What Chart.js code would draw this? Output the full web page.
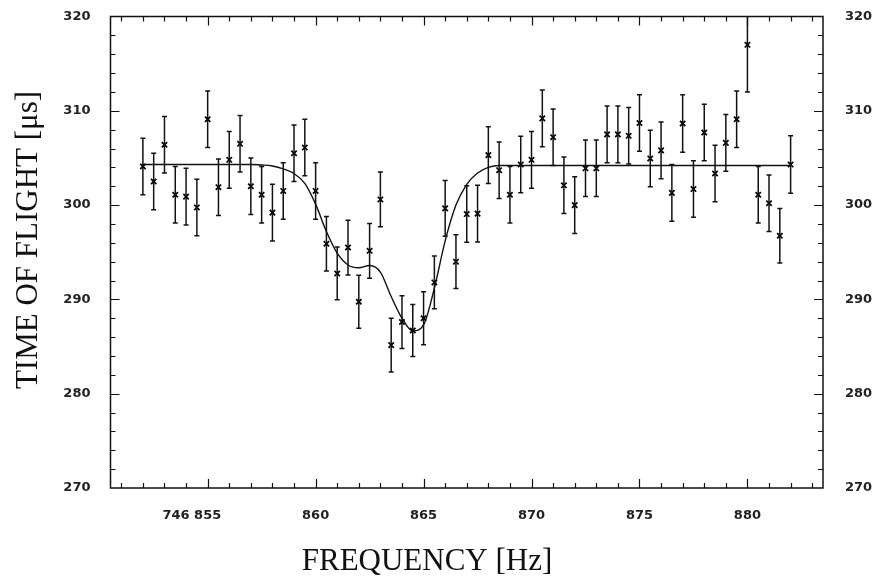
<!DOCTYPE html>
<html><head><meta charset="utf-8">
<script src="https://cdn.jsdelivr.net/npm/chart.js@4.4.1/dist/chart.umd.min.js"></script>
<style>html,body{margin:0;padding:0;background:#fff}#wrap{width:877px;height:581px;position:relative}</style>
</head><body><div id="wrap"><canvas id="c"></canvas></div>
<script>
// ---- data ----
const frequencies = [852.0, 852.5, 853.0, 853.5, 854.0, 854.5, 855.0, 855.5, 856.0, 856.5,
  857.0, 857.5, 858.0, 858.5, 859.0, 859.5, 860.0, 860.5, 861.0, 861.5,
  862.0, 862.5, 863.0, 863.5, 864.0, 864.5, 865.0, 865.5, 866.0, 866.5,
  867.0, 867.5, 868.0, 868.5, 869.0, 869.5, 870.0, 870.5, 871.0, 871.5,
  872.0, 872.5, 873.0, 873.5, 874.0, 874.5, 875.0, 875.5, 876.0, 876.5,
  877.0, 877.5, 878.0, 878.5, 879.0, 879.5, 880.0, 880.5, 881.0, 881.5, 882.0];
const timeOfFlight = [304.1, 302.5, 306.4, 301.1, 300.9, 299.75, 309.1, 301.9, 304.8, 306.5,
  302.0, 301.1, 299.2, 301.5, 305.5, 306.1, 301.5, 295.9, 292.75, 295.5,
  289.75, 295.15, 300.6, 285.15, 287.6, 286.7, 288.0, 291.8, 299.65, 294.0,
  299.05, 299.1, 305.3, 303.7, 301.1, 304.3, 304.8, 309.2, 307.2, 302.1,
  300.0, 303.9, 303.9, 307.5, 307.5, 307.35, 308.7, 304.95, 305.8, 301.3,
  308.65, 301.7, 307.7, 303.35, 306.6, 309.1, 317.0, 301.1, 300.2, 296.75, 304.3];
const errors = [3.0, 3.0, 3.0, 3.0, 3.0, 3.0, 3.0, 3.0, 3.0, 3.0,
  3.0, 3.0, 3.0, 3.0, 3.0, 3.0, 3.0, 2.9, 2.8, 2.9,
  2.8, 2.9, 2.9, 2.85, 2.8, 2.75, 2.8, 2.8, 2.95, 2.85,
  3.0, 3.0, 3.0, 3.0, 3.0, 3.0, 3.0, 3.0, 3.0, 3.0,
  3.0, 3.0, 3.0, 3.0, 3.0, 3.0, 3.0, 3.0, 3.0, 3.0,
  3.05, 3.0, 3.0, 3.0, 3.0, 3.0, 5.0, 3.0, 3.0, 2.9, 3.05];
const fitFrequencies = [852, 853, 854, 855, 856, 857, 857.5, 858, 858.5, 859, 859.5, 860, 860.5,
  861, 861.5, 862, 862.5, 863, 863.5, 864, 864.5, 865, 865.5, 866, 866.5, 867, 867.5,
  868, 868.5, 869, 870, 872, 875, 878, 880, 882];
const fitValues = [304.3, 304.3, 304.3, 304.3, 304.3, 304.3, 304.25, 304.15, 303.85, 303.35, 302.3, 300.1, 297.2,
  294.9, 293.65, 293.35, 293.6, 292.9, 290.3, 288.0, 286.65, 287.3, 291.2, 296.2, 300.0, 302.2, 303.4,
  304.0, 304.2, 304.2, 304.2, 304.2, 304.2, 304.2, 304.2, 304.2];
const xTickValues = [855, 860, 865, 870, 875, 880];
const xTickLabels = ['746 855', '860', '865', '870', '875', '880'];
const yTickValues = [270, 280, 290, 300, 310, 320];
const yTickLabels = ['270', '280', '290', '300', '310', '320'];
const xTitle = 'FREQUENCY [Hz]';
const yTitle = 'TIME OF FLIGHT [\u03BCs]';

// ---- helpers ----
function xLabel(v) {
  const i = xTickValues.indexOf(v);
  if (i < 0) return '';
  const lab = xTickLabels[i];
  const parts = lab.split(' ');
  // keep the last group centred on its tick (prefix hangs to the left)
  return parts.length > 1 ? lab + ' '.repeat(parts[0].length * 2 + 1) : lab;
}
function yLabel(v) {
  const i = yTickValues.indexOf(v);
  return i < 0 ? '' : yTickLabels[i];
}

const INK = '#111';

const errorBarPlugin = {
  id: 'errorBars',
  afterDatasetsDraw(chart) {
    const {ctx, chartArea, scales} = chart;
    const xs = scales.x, ys = scales.y;
    ctx.save();
    ctx.beginPath();
    ctx.rect(chartArea.left, chartArea.top, chartArea.right - chartArea.left, chartArea.bottom - chartArea.top);
    ctx.clip();
    ctx.strokeStyle = INK;
    ctx.lineWidth = 1.5;
    for (let i = 0; i < frequencies.length; i++) {
      const px = xs.getPixelForValue(frequencies[i]);
      const top = ys.getPixelForValue(timeOfFlight[i] + errors[i]);
      const bot = ys.getPixelForValue(timeOfFlight[i] - errors[i]);
      ctx.beginPath();
      ctx.moveTo(px, top); ctx.lineTo(px, bot);
      ctx.moveTo(px - 2.5, top); ctx.lineTo(px + 2.5, top);
      ctx.moveTo(px - 2.5, bot); ctx.lineTo(px + 2.5, bot);
      ctx.stroke();
    }
    ctx.restore();
  }
};

const framePlugin = {
  id: 'frameTicks',
  afterDraw(chart) {
    const {ctx, chartArea: a, scales} = chart;
    const xs = scales.x, ys = scales.y;
    ctx.save();
    ctx.strokeStyle = INK;
    ctx.lineWidth = 1.5;
    ctx.strokeRect(a.left, a.top, a.right - a.left, a.bottom - a.top);
    ctx.lineWidth = 1.2;
    ctx.beginPath();
    // x ticks (every 1 Hz, major at labelled values), bottom and top, inward
    for (let f = Math.ceil(xs.min); f <= xs.max; f++) {
      const px = Math.round(xs.getPixelForValue(f)) + 0.5;
      const len = xTickValues.includes(f) ? 9 : 5;
      ctx.moveTo(px, a.bottom); ctx.lineTo(px, a.bottom - len);
      ctx.moveTo(px, a.top); ctx.lineTo(px, a.top + len);
    }
    // y ticks (every 2 units, major at labelled values), left and right, inward
    for (let v = ys.min + 2; v < ys.max; v += 2) {
      const py = Math.round(ys.getPixelForValue(v)) + 0.5;
      const len = yTickValues.includes(v) ? 9 : 5;
      ctx.moveTo(a.left, py); ctx.lineTo(a.left + len, py);
      ctx.moveTo(a.right, py); ctx.lineTo(a.right - len, py);
    }
    ctx.stroke();
    // axis titles
    ctx.fillStyle = INK;
    ctx.font = '31px "Liberation Serif", "Times New Roman", serif';
    ctx.textAlign = 'center';
    ctx.textBaseline = 'alphabetic';
    ctx.fillText(xTitle, 427, 570);
    ctx.translate(37, 240);
    ctx.rotate(-Math.PI / 2);
    ctx.fillText(yTitle, 0, 0);
    ctx.restore();
  }
};

const tickFont = {family: '"DejaVu Sans", sans-serif', size: 13, weight: 'bold'};

new Chart(document.getElementById('c'), {
  type: 'scatter',
  data: {
    datasets: [
      {
        type: 'line',
        label: 'fit',
        data: fitFrequencies.map((x, i) => ({x: x, y: fitValues[i]})),
        borderColor: INK,
        borderWidth: 1.4,
        pointRadius: 0,
        cubicInterpolationMode: 'monotone',
        fill: false,
        order: 2
      },
      {
        label: 'data',
        data: frequencies.map((x, i) => ({x: x, y: timeOfFlight[i]})),
        pointStyle: 'crossRot',
        pointRadius: 3.8,
        borderColor: '#000',
        backgroundColor: '#000',
        borderWidth: 1.7,
        showLine: false,
        order: 1
      }
    ]
  },
  options: {
    responsive: true,
    maintainAspectRatio: false,
    animation: false,
    layout: {padding: {top: 16.5, left: 0, right: 0, bottom: 0}},
    plugins: {legend: {display: false}, tooltip: {enabled: false}},
    scales: {
      x: {
        type: 'linear', position: 'bottom', min: 850.5, max: 883.5,
        afterBuildTicks: s => { s.ticks = xTickValues.map(v => ({value: v})); },
        ticks: {callback: v => xLabel(v), padding: 20, maxRotation: 0, autoSkip: false, font: tickFont, color: '#222'},
        grid: {display: false, drawTicks: false},
        border: {display: false},
        afterFit: s => { s.height = 93; s.paddingLeft = 0; s.paddingRight = 0; }
      },
      y: {
        type: 'linear', position: 'left', min: 270, max: 320,
        afterBuildTicks: s => { s.ticks = yTickValues.map(v => ({value: v})); },
        ticks: {callback: v => yLabel(v), padding: 20, font: tickFont, color: '#222'},
        grid: {display: false, drawTicks: false},
        border: {display: false},
        afterFit: s => { s.width = 110.5; s.paddingTop = 0; s.paddingBottom = 0; }
      },
      y2: {
        type: 'linear', position: 'right', min: 270, max: 320,
        afterBuildTicks: s => { s.ticks = yTickValues.map(v => ({value: v})); },
        ticks: {callback: v => yLabel(v), padding: 22, font: tickFont, color: '#222'},
        grid: {display: false, drawTicks: false},
        border: {display: false},
        afterFit: s => { s.width = 54; s.paddingTop = 0; s.paddingBottom = 0; }
      }
    }
  },
  plugins: [errorBarPlugin, framePlugin]
});
</script>
</body></html>
